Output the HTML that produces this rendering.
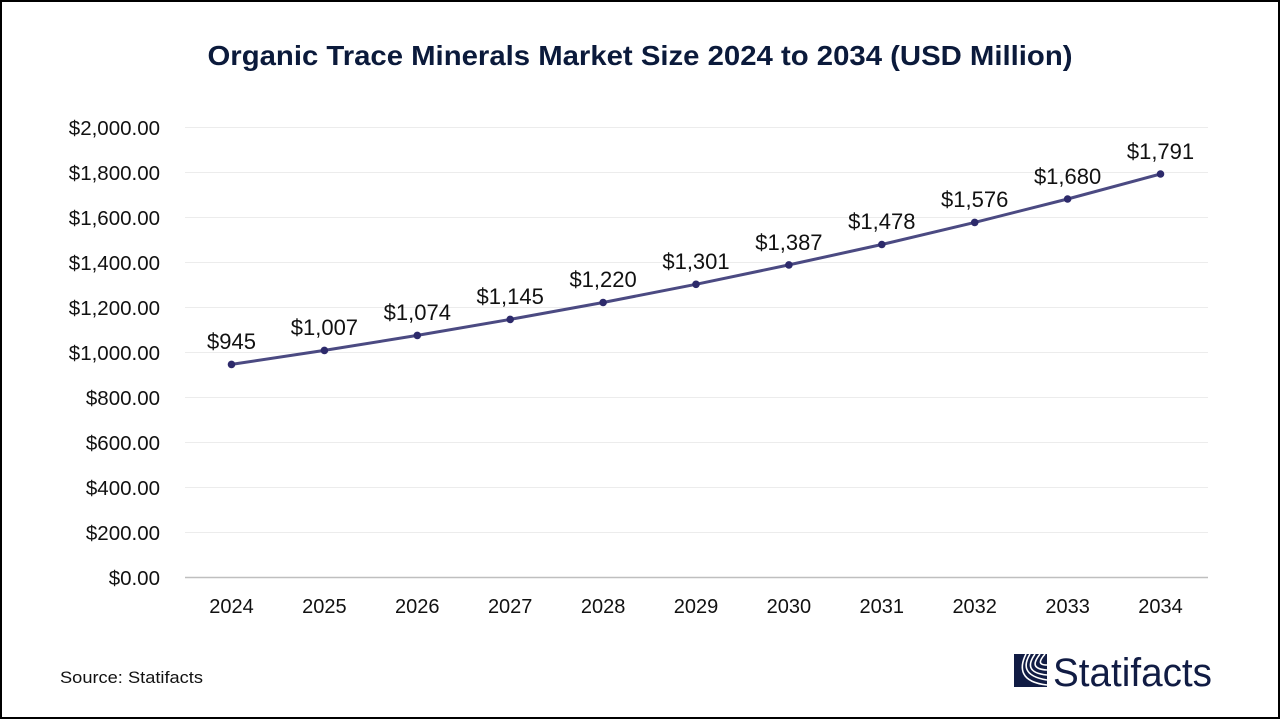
<!DOCTYPE html>
<html>
<head>
<meta charset="utf-8">
<style>
html,body{margin:0;padding:0;background:#fff;}
svg{display:block;}
text{font-family:"Liberation Sans",Arial,sans-serif;}
</style>
</head>
<body>
<svg width="1280" height="720" viewBox="0 0 1280 720" xmlns="http://www.w3.org/2000/svg">
<rect x="1" y="1" width="1278" height="717" fill="#fff" stroke="#000" stroke-width="2"/>
<text x="640" y="65" text-anchor="middle" font-size="28" font-weight="bold" fill="#0b1a3b" textLength="865" lengthAdjust="spacingAndGlyphs">Organic Trace Minerals Market Size 2024 to 2034 (USD Million)</text>

<g stroke="#ececec" stroke-width="1">
<line x1="185" y1="127.5" x2="1208" y2="127.5"/>
<line x1="185" y1="172.5" x2="1208" y2="172.5"/>
<line x1="185" y1="217.5" x2="1208" y2="217.5"/>
<line x1="185" y1="262.5" x2="1208" y2="262.5"/>
<line x1="185" y1="307.5" x2="1208" y2="307.5"/>
<line x1="185" y1="352.5" x2="1208" y2="352.5"/>
<line x1="185" y1="397.5" x2="1208" y2="397.5"/>
<line x1="185" y1="442.5" x2="1208" y2="442.5"/>
<line x1="185" y1="487.5" x2="1208" y2="487.5"/>
<line x1="185" y1="532.5" x2="1208" y2="532.5"/>
</g>
<line x1="185" y1="577.5" x2="1208" y2="577.5" stroke="#bfbfbf" stroke-width="1.5"/>

<g font-size="20.5" fill="#111" text-anchor="end">
<text x="160" y="135">$2,000.00</text>
<text x="160" y="180">$1,800.00</text>
<text x="160" y="225">$1,600.00</text>
<text x="160" y="270">$1,400.00</text>
<text x="160" y="315">$1,200.00</text>
<text x="160" y="360">$1,000.00</text>
<text x="160" y="405">$800.00</text>
<text x="160" y="450">$600.00</text>
<text x="160" y="495">$400.00</text>
<text x="160" y="540">$200.00</text>
<text x="160" y="585">$0.00</text>
</g>

<g font-size="20" fill="#111" text-anchor="middle">
<text x="231.5" y="613">2024</text>
<text x="324.4" y="613">2025</text>
<text x="417.3" y="613">2026</text>
<text x="510.2" y="613">2027</text>
<text x="603.1" y="613">2028</text>
<text x="696" y="613">2029</text>
<text x="788.9" y="613">2030</text>
<text x="881.8" y="613">2031</text>
<text x="974.7" y="613">2032</text>
<text x="1067.6" y="613">2033</text>
<text x="1160.5" y="613">2034</text>
</g>

<polyline fill="none" stroke="#4b4a82" stroke-width="3" points="231.5,364.4 324.4,350.4 417.3,335.4 510.2,319.4 603.1,302.5 696,284.3 788.9,264.9 881.8,244.5 974.7,222.4 1067.6,199 1160.5,174"/>
<g fill="#2d2a6b">
<circle cx="231.5" cy="364.4" r="3.8"/>
<circle cx="324.4" cy="350.4" r="3.8"/>
<circle cx="417.3" cy="335.4" r="3.8"/>
<circle cx="510.2" cy="319.4" r="3.8"/>
<circle cx="603.1" cy="302.5" r="3.8"/>
<circle cx="696" cy="284.3" r="3.8"/>
<circle cx="788.9" cy="264.9" r="3.8"/>
<circle cx="881.8" cy="244.5" r="3.8"/>
<circle cx="974.7" cy="222.4" r="3.8"/>
<circle cx="1067.6" cy="199" r="3.8"/>
<circle cx="1160.5" cy="174" r="3.8"/>
</g>

<g font-size="22" fill="#111" text-anchor="middle">
<text x="231.5" y="349">$945</text>
<text x="324.4" y="335">$1,007</text>
<text x="417.3" y="320">$1,074</text>
<text x="510.2" y="304">$1,145</text>
<text x="603.1" y="287">$1,220</text>
<text x="696" y="269">$1,301</text>
<text x="788.9" y="250">$1,387</text>
<text x="881.8" y="229">$1,478</text>
<text x="974.7" y="207">$1,576</text>
<text x="1067.6" y="184">$1,680</text>
<text x="1160.5" y="159">$1,791</text>
</g>

<text x="60" y="683" font-size="17" fill="#111" textLength="143" lengthAdjust="spacingAndGlyphs">Source: Statifacts</text>

<g>
<rect x="1014" y="654" width="33" height="33" fill="#111c44"/>
<g fill="none" stroke="#fff" stroke-width="1.6">
<path d="M1030,654 C1024,664 1022,676 1047,680"/>
<path d="M1035,654 C1028,664 1027,673 1047,675"/>
<path d="M1040,654 C1033,663 1032,669 1047,670"/>
<path d="M1045,654 C1039,661 1038,665 1047,665"/>
<path d="M1026,654 C1019,668 1020,682 1047,685"/>
</g>
<text x="1053" y="686" font-size="40" fill="#111c44" textLength="159" lengthAdjust="spacingAndGlyphs">Statifacts</text>
</g>
</svg>
</body>
</html>
